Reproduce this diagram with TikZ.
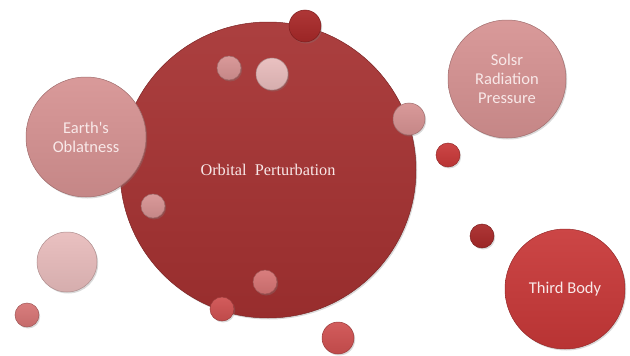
\documentclass[tikz,border=0pt]{standalone}
\usepackage{fontspec}
\setmainfont{Liberation Serif}
\newfontfamily\carlito{Carlito}
\usetikzlibrary{shadows}

\definecolor{bigred}{HTML}{A53131}
\definecolor{rosepink}{HTML}{D69292}
\definecolor{palepink}{HTML}{E8BCBC}
\definecolor{midpink}{HTML}{D67474}
\definecolor{coral}{HTML}{CF5050}
\definecolor{darkred}{HTML}{A82828}
\definecolor{brightred}{HTML}{C83838}
\definecolor{labeltext}{HTML}{F8E8E8}

\tikzset{
  bubble/.style={circle, inner sep=0pt, draw=#1!75!black, line width=0.5pt,
    top color=#1!93!white, bottom color=#1!92!black,
    drop shadow={opacity=0.3, shadow xshift=1.2pt, shadow yshift=-1.5pt}},
  sanslabel/.style={text=labeltext, align=center, font=\carlito\fontsize{16.5}{19}\selectfont},
}

\begin{document}
\begin{tikzpicture}[x=1pt,y=-1pt]
  \useasboundingbox (0,0) rectangle (630,356);

  % main bubble
  \node[bubble=bigred, minimum size=296pt, text=labeltext,
        font=\fontsize{16.3}{19}\selectfont] (orbit) at (268,170) {Orbital~ Perturbation};

  % small bubbles
  \node[bubble=darkred,  minimum size=32pt] (dot1)  at (305,26)  {};
  \node[bubble=rosepink, minimum size=24pt] (dot2)  at (229,68)  {};
  \node[bubble=palepink, minimum size=32pt] (dot3)  at (272,74)  {};
  \node[bubble=rosepink, minimum size=32pt] (dot4)  at (409,119) {};
  \node[bubble=brightred,minimum size=24pt] (dot5)  at (448,155) {};
  \node[bubble=rosepink, minimum size=24pt] (dot6)  at (153,206) {};
  \node[bubble=palepink, minimum size=60pt] (dot7)  at (67,262)  {};
  \node[bubble=darkred,  minimum size=24pt] (dot8)  at (482,236) {};
  \node[bubble=midpink,  minimum size=24pt] (dot9)  at (265,282) {};
  \node[bubble=coral,    minimum size=24pt] (dot10) at (222,309) {};
  \node[bubble=midpink,  minimum size=24pt] (dot11) at (27,315)  {};
  \node[bubble=coral,    minimum size=32pt] (dot12) at (338,338) {};

  % labelled bubbles
  \node[bubble=rosepink, minimum size=120pt, sanslabel] (earth) at (86,137) {Earth's\\Oblatness};
  \node[bubble=rosepink, minimum size=118pt, sanslabel] (solar) at (507,79) {Solsr\\Radiation\\Pressure};
  \node[bubble=brightred, minimum size=120pt, sanslabel] (third) at (565,289) {Third Body};
\end{tikzpicture}
\end{document}
